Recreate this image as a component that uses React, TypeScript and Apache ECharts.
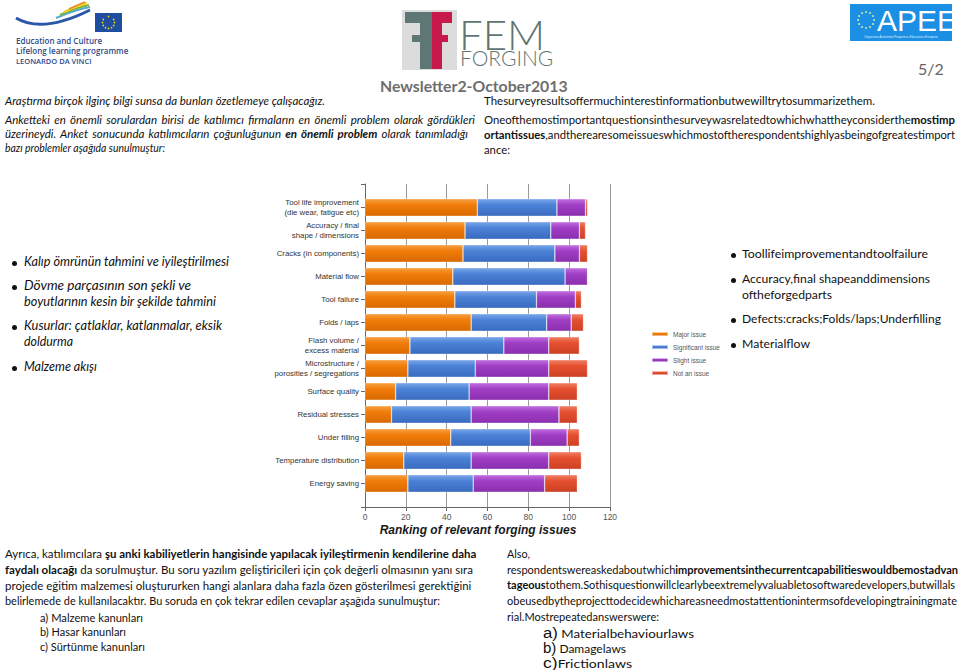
import React, { useEffect, useLayoutEffect, useRef } from "react";
import * as echarts from "echarts";

// ---------- data ----------
const categories = [
  "Tool life improvement\n(die wear, fatigue etc)",
  "Accuracy / final\nshape / dimensions",
  "Cracks (in components)",
  "Material flow",
  "Tool failure",
  "Folds / laps",
  "Flash volume /\nexcess material",
  "Microstructure /\nporosities / segregations",
  "Surface quality",
  "Residual stresses",
  "Under filling",
  "Temperature distribution",
  "Energy saving",
];
const majorIssue = [55, 49, 48, 43, 44, 52, 22, 21, 15, 13, 42, 19, 21];
const significantIssue = [39, 42, 45, 55, 40, 37, 46, 33, 36, 39, 39, 33, 32];
const slightIssue = [14, 14, 12, 11, 19, 12, 22, 36, 39, 43, 18, 38, 35];
const notAnIssue = [1, 3, 4, 0, 3, 6, 15, 19, 14, 9, 6, 16, 16];
const seriesNames = ["Major issue", "Significant issue", "Slight issue", "Not an issue"];
const axisMin = 0;
const axisMax = 120;
const axisInterval = 20;
const chartTitle = "Ranking of relevant forging issues";

const seriesColors = [
  ["#F7A040", "#F07C0A", "#D96A00"],
  ["#7AA6EA", "#4B82D6", "#3A6BC0"],
  ["#C070E0", "#A03EC4", "#8A2FAE"],
  ["#F08066", "#E5502F", "#CC4024"],
];

const FONT = 'Lato, "Open Sans", sans-serif';

function grad(c: string[]) {
  return new echarts.graphic.LinearGradient(0, 0, 0, 1, [
    { offset: 0, color: c[0] },
    { offset: 0.35, color: c[1] },
    { offset: 1, color: c[2] },
  ]);
}

function starRing(cx: number, cy: number, r: number, dot: number, color: string) {
  const out: any[] = [];
  for (let i = 0; i < 12; i++) {
    const a = (i / 12) * Math.PI * 2;
    out.push({
      type: "circle",
      shape: { cx: cx + r * Math.cos(a), cy: cy + r * Math.sin(a), r: dot },
      style: { fill: color },
    });
  }
  return out;
}

type LineProps = {
  x: number;
  y: number;
  size?: number;
  italic?: boolean;
  width?: number; // justify to width (lines with spaces)
  fit?: number; // scale horizontally to this width
  color?: string;
  children: React.ReactNode;
};

function Line({ x, y, size = 11.5, italic, width, fit, color = "#111", children }: LineProps) {
  const spanRef = useRef<HTMLSpanElement>(null);
  useLayoutEffect(() => {
    const el = spanRef.current;
    if (!el || !fit) return;
    const apply = () => {
      el.style.transform = "none";
      const w = el.getBoundingClientRect().width;
      if (w > 0) el.style.transform = `scaleX(${fit / w})`;
    };
    apply();
    const fonts = (document as any).fonts;
    if (fonts && fonts.ready) fonts.ready.then(apply);
  }, [fit]);

  const style: React.CSSProperties = {
    position: "absolute",
    left: x,
    top: y - 8,
    height: 16,
    lineHeight: "16px",
    fontSize: size,
    fontFamily: FONT,
    fontStyle: italic ? "italic" : "normal",
    color,
    whiteSpace: "nowrap",
  };
  if (width) {
    style.width = width;
    style.textAlign = "justify";
    (style as any).textAlignLast = "justify";
    return <div style={style}>{children}</div>;
  }
  return (
    <div style={style}>
      <span ref={spanRef} style={{ display: "inline-block", transformOrigin: "0 50%", whiteSpace: "nowrap" }}>
        {children}
      </span>
    </div>
  );
}

function Bullet({ x, y }: { x: number; y: number }) {
  return (
    <div
      style={{
        position: "absolute",
        left: x - 2.5,
        top: y - 2.5,
        width: 5,
        height: 5,
        borderRadius: 3,
        background: "#111",
      }}
    />
  );
}

const bigLetter: React.CSSProperties = { fontSize: 14, fontFamily: '"Liberation Sans", sans-serif' };

const logoWord = (top: number, size: number, lh: number): React.CSSProperties => ({
  position: "absolute",
  left: 459,
  top,
  height: lh,
  lineHeight: `${lh}px`,
  fontSize: size,
  fontWeight: 300,
  fontFamily: FONT,
  color: "#5F7573",
  whiteSpace: "nowrap",
  overflow: "visible",
});

export default function App() {
  const ref = useRef<HTMLDivElement>(null);

  useEffect(() => {
    if (!ref.current) return;
    const chart = echarts.init(ref.current, undefined, { renderer: "svg" });
    const seriesData = [majorIssue, significantIssue, slightIssue, notAnIssue];

    const graphics: any[] = [
      // EU logo
      {
        type: "bezierCurve",
        shape: { x1: 16, y1: 18, cpx1: 36, cpy1: 30, cpx2: 62, cpy2: 24, x2: 90, y2: 10 },
        style: { stroke: "#2A57A8", lineWidth: 3, fill: null },
      },
      {
        type: "bezierCurve",
        shape: { x1: 56, y1: 18, cpx1: 68, cpy1: 13, cpx2: 78, cpy2: 9, x2: 90, y2: 7 },
        style: { stroke: "#5BA8D8", lineWidth: 2, fill: null },
      },
      {
        type: "bezierCurve",
        shape: { x1: 60, y1: 15, cpx1: 70, cpy1: 10, cpx2: 80, cpy2: 7, x2: 89, y2: 5 },
        style: { stroke: "#7FB539", lineWidth: 2, fill: null },
      },
      {
        type: "bezierCurve",
        shape: { x1: 64, y1: 12, cpx1: 72, cpy1: 8, cpx2: 80, cpy2: 5, x2: 87, y2: 3 },
        style: { stroke: "#F3D01C", lineWidth: 2, fill: null },
      },
      {
        type: "bezierCurve",
        shape: { x1: 69, y1: 9, cpx1: 75, cpy1: 6, cpx2: 80, cpy2: 4, x2: 85, y2: 2 },
        style: { stroke: "#E98B2A", lineWidth: 1.5, fill: null },
      },
      { type: "rect", shape: { x: 95, y: 13, width: 27, height: 19 }, style: { fill: "#1F4DA0" } },
      ...starRing(108.5, 22.5, 6, 0.8, "#F5D800"),
      {
        type: "text",
        style: { text: "Education and Culture", x: 16, y: 40, fontSize: 8, fontWeight: 600, fontFamily: '"Open Sans", sans-serif', fill: "#2B4A8C", textVerticalAlign: "middle" },
      },
      {
        type: "text",
        style: { text: "Lifelong learning programme", x: 16, y: 50.5, fontSize: 8, fontWeight: 600, fontFamily: '"Open Sans", sans-serif', fill: "#2B4A8C", textVerticalAlign: "middle" },
      },
      {
        type: "text",
        style: { text: "LEONARDO DA VINCI", x: 16, y: 61, fontSize: 7.5, fontWeight: 600, fontFamily: '"Open Sans", sans-serif', fill: "#2B4A8C", textVerticalAlign: "middle" },
      },
      // FEM FORGING icon
      { type: "rect", shape: { x: 402, y: 10, width: 55, height: 60 }, style: { fill: "#DCDCDC" } },
      { type: "rect", shape: { x: 405, y: 12, width: 27, height: 11 }, style: { fill: "#5E7775" } },
      { type: "rect", shape: { x: 420, y: 12, width: 12, height: 57 }, style: { fill: "#5E7775" } },
      { type: "rect", shape: { x: 412, y: 35, width: 20, height: 7 }, style: { fill: "#5E7775" } },
      { type: "rect", shape: { x: 432, y: 12, width: 20, height: 11 }, style: { fill: "#C8194B" } },
      { type: "rect", shape: { x: 432, y: 12, width: 10, height: 57 }, style: { fill: "#C8194B" } },
      { type: "rect", shape: { x: 432, y: 35, width: 16, height: 7 }, style: { fill: "#C8194B" } },
      {
        type: "text",
        style: { text: "Newsletter2-October2013", x: 380, y: 85, fontSize: 15.8, fontWeight: "bold", fontFamily: FONT, fill: "#6E6E6E", textVerticalAlign: "middle" },
      },
      // APEE logo
      { type: "rect", shape: { x: 850, y: 4, width: 102, height: 37 }, style: { fill: "#1B8FE3" } },
      ...starRing(866, 20, 8, 0.9, "#E8F0A0"),
      {
        type: "text",
        style: { text: "APEE", x: 877, y: 20, fontSize: 30, fontFamily: '"Liberation Sans", sans-serif', fill: "#FFFFFF", textVerticalAlign: "middle" },
      },
      {
        type: "text",
        style: { text: "Organismo Autónomo Programas Educativos Europeos", x: 901, y: 36.5, fontSize: 3, fontFamily: '"Liberation Sans", sans-serif', fill: "#DDEEFF", textAlign: "center", textVerticalAlign: "middle" },
      },
      {
        type: "text",
        style: { text: "5/2", x: 918, y: 68, fontSize: 16, fontFamily: FONT, fill: "#666", textVerticalAlign: "middle" },
      },
      // chart title
      {
        type: "text",
        style: { text: chartTitle, x: 478, y: 530, fontSize: 12, fontWeight: "bold", fontStyle: "italic", fontFamily: '"Liberation Sans", sans-serif', fill: "#1A1A1A", textAlign: "center", textVerticalAlign: "middle" },
      },
    ];

    chart.setOption({
      animation: false,
      backgroundColor: "#FFFFFF",
      legend: {
        data: seriesNames,
        orient: "vertical",
        left: 646,
        top: 325,
        itemWidth: 16,
        itemHeight: 4,
        itemGap: 5,
        icon: "rect",
        textStyle: { fontSize: 6.5, color: "#555", lineHeight: 8, fontFamily: '"Liberation Sans", sans-serif' },
      },
      grid: [
        { left: 365, top: 184, width: 245, height: 323, containLabel: false },
        { left: 365, top: 196, width: 245, height: 299, containLabel: false },
      ],
      xAxis: [
        {
          gridIndex: 0,
          type: "value",
          min: axisMin,
          max: axisMax,
          interval: axisInterval,
          axisLine: { show: true, lineStyle: { color: "#666", width: 1 } },
          axisTick: { show: true, length: 4, lineStyle: { color: "#666" } },
          axisLabel: { fontSize: 8.5, color: "#555", margin: 5, fontFamily: '"Liberation Sans", sans-serif' },
          splitLine: { show: true, lineStyle: { color: "#9A9A9A", width: 1 } },
        },
        {
          gridIndex: 1,
          type: "value",
          min: axisMin,
          max: axisMax,
          interval: axisInterval,
          show: false,
        },
      ],
      yAxis: [
        {
          gridIndex: 0,
          type: "value",
          min: 0,
          max: 1,
          interval: 1,
          axisLine: { show: true, lineStyle: { color: "#666", width: 1 } },
          axisTick: { show: true, length: 4, lineStyle: { color: "#666" } },
          axisLabel: { show: false },
          splitLine: { show: false },
        },
        {
          gridIndex: 1,
          type: "category",
          data: categories,
          inverse: true,
          axisLine: { show: false },
          axisTick: { show: true, alignWithLabel: true, length: 4, lineStyle: { color: "#666" } },
          axisLabel: {
            fontSize: 7.8,
            lineHeight: 9.5,
            color: "#333",
            margin: 6,
            fontFamily: '"Liberation Sans", sans-serif',
          },
          splitLine: { show: false },
        },
      ],
      series: seriesNames.map((name, i) => ({
        name,
        type: "bar",
        stack: "total",
        xAxisIndex: 1,
        yAxisIndex: 1,
        barWidth: 17.5,
        data: seriesData[i],
        itemStyle: {
          color: grad(seriesColors[i]),
          borderColor: "rgba(255,255,255,0.5)",
          borderWidth: 0.6,
        },
        emphasis: { disabled: true },
      })),
      graphic: graphics,
    });

    return () => chart.dispose();
  }, []);

  return (
    <div style={{ position: "absolute", left: 0, top: 0, width: 960, height: 670, background: "#fff", overflow: "hidden" }}>
      <div ref={ref} style={{ position: "absolute", left: 0, top: 0, width: 960, height: 670 }} />
      <div style={{ position: "absolute", left: 0, top: 0, width: 960, height: 670, pointerEvents: "none" }}>
        {/* FEM FORGING wordmark */}
        <div style={logoWord(18.5, 42, 30)}>FEM</div>
        <div style={{ ...logoWord(50, 21, 15), left: 460 }}>FORGING</div>

        {/* top left */}
        <Line x={5} y={101} italic fit={320}>Araştırma birçok ilginç bilgi sunsa da bunları özetlemeye çalışacağız.</Line>
        <Line x={5} y={120} italic width={470}>Anketteki en önemli sorulardan birisi de katılımcı firmaların en önemli problem olarak gördükleri</Line>
        <Line x={5} y={134} italic width={463}>
          üzerineydi. Anket sonucunda katılımcıların çoğunluğunun <b>en önemli problem</b> olarak tanımladığı
        </Line>
        <Line x={5} y={148} italic fit={160}>bazı problemler aşağıda sunulmuştur:</Line>

        {/* top right */}
        <Line x={484} y={101} fit={391}>Thesurveyresultsoffermuchinterestinformationbutwewilltrytosummarizethem.</Line>
        <Line x={484} y={120} fit={471}>
          Oneofthemostimportantquestionsinthesurveywasrelatedtowhichwhattheyconsiderthe<b>mostimp</b>
        </Line>
        <Line x={484} y={135} fit={471}>
          <b>ortantissues</b>,andtherearesomeissueswhichmostoftherespondentshighlyasbeingofgreatestimport
        </Line>
        <Line x={484} y={150} fit={26}>ance:</Line>

        {/* left bullets */}
        <Bullet x={14} y={263} />
        <Line x={24} y={262} italic size={12.6} fit={205}>Kalıp ömrünün tahmini ve iyileştirilmesi</Line>
        <Bullet x={14} y={287} />
        <Line x={24} y={286} italic size={12.6} fit={167}>Dövme parçasının son şekli ve</Line>
        <Line x={24} y={302} italic size={12.6} fit={192}>boyutlarının kesin bir şekilde tahmini</Line>
        <Bullet x={14} y={327} />
        <Line x={24} y={326} italic size={12.6} fit={198}>Kusurlar: çatlaklar, katlanmalar, eksik</Line>
        <Line x={24} y={342} italic size={12.6} fit={49}>doldurma</Line>
        <Bullet x={14} y={368} />
        <Line x={24} y={367} italic size={12.6} fit={73}>Malzeme akışı</Line>

        {/* right bullets */}
        <Bullet x={733} y={255} />
        <Line x={742} y={254} size={12.2} fit={186}>Toollifeimprovementandtoolfailure</Line>
        <Bullet x={733} y={280} />
        <Line x={742} y={279} size={12.2} fit={188}>Accuracy,final shapeanddimensions</Line>
        <Line x={742} y={295} size={12.2} fit={90}>oftheforgedparts</Line>
        <Bullet x={733} y={320} />
        <Line x={742} y={319} size={12.2} fit={199}>Defects:cracks;Folds/laps;Underfilling</Line>
        <Bullet x={733} y={345} />
        <Line x={742} y={344} size={12.2} fit={68}>Materialflow</Line>

        {/* bottom left */}
        <Line x={5} y={554} width={456}>
          Ayrıca, katılımcılara <b>şu anki kabiliyetlerin hangisinde yapılacak iyileştirmenin kendilerine daha</b>
        </Line>
        <Line x={5} y={570} width={456}>
          <b>faydalı olacağı</b> da sorulmuştur. Bu soru yazılım geliştiricileri için çok değerli olmasının yanı sıra
        </Line>
        <Line x={5} y={586} width={456}>projede eğitim malzemesi oluştururken hangi alanlara daha fazla özen gösterilmesi gerektiğini</Line>
        <Line x={5} y={601} fit={435}>belirlemede de kullanılacaktır. Bu soruda en çok tekrar edilen cevaplar aşağıda sunulmuştur:</Line>
        <Line x={40} y={618} fit={103}>a) Malzeme kanunları</Line>
        <Line x={40} y={632} fit={86}>b) Hasar kanunları</Line>
        <Line x={40} y={647} fit={105}>c) Sürtünme kanunları</Line>

        {/* bottom right */}
        <Line x={507} y={554} fit={23}>Also,</Line>
        <Line x={507} y={570} size={11.2} fit={451}>
          respondentswereaskedaboutwhich<b>improvementsinthecurrentcapabilitieswouldbemostadvan</b>
        </Line>
        <Line x={507} y={585} size={11.2} fit={448}>
          <b>tageous</b>tothem.Sothisquestionwillclearlybeextremelyvaluabletosoftwaredevelopers,butwillals
        </Line>
        <Line x={507} y={601} size={11.2} fit={450}>obeusedbytheprojecttodecidewhichareasneedmostattentionintermsofdevelopingtrainingmate</Line>
        <Line x={507} y={617} size={11.2} fit={152}>rial.Mostrepeatedanswerswere:</Line>
        <Line x={543} y={633} size={11.2} fit={151}>
          <span style={bigLetter}>a)</span> Materialbehaviourlaws
        </Line>
        <Line x={543} y={648} size={11.2} fit={83}>
          <span style={bigLetter}>b)</span> Damagelaws
        </Line>
        <Line x={543} y={663} size={11.2} fit={89}>
          <span style={bigLetter}>c)</span>Frictionlaws
        </Line>
      </div>
    </div>
  );
}
